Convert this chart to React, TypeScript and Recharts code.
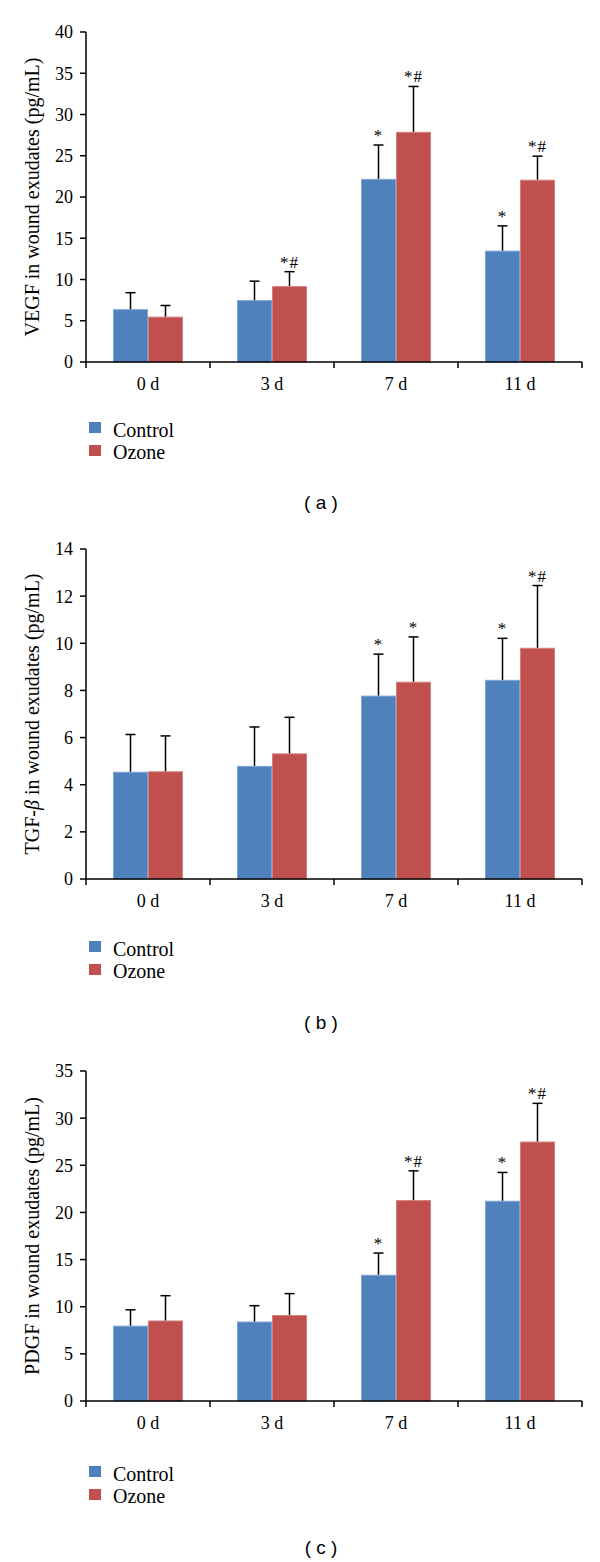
import { BarChart, Bar, XAxis, YAxis, Legend, Label } from "recharts";

const days = ["0 d", "3 d", "7 d", "11 d"];

// (a) VEGF
const vegfControl = [6.4, 7.5, 22.2, 13.5];
const vegfOzone = [5.5, 9.2, 27.9, 22.1];
const vegfControlErr = [2.0, 2.3, 4.1, 3.0];
const vegfOzoneErr = [1.35, 1.75, 5.5, 2.85];
const vegfControlSig = ["", "", "*", "*"];
const vegfOzoneSig = ["", "*#", "*#", "*#"];
const vegfTicks = [0, 5, 10, 15, 20, 25, 30, 35, 40];

// (b) TGF-beta
const tgfControl = [4.55, 4.8, 7.78, 8.45];
const tgfOzone = [4.57, 5.33, 8.37, 9.81];
const tgfControlErr = [1.58, 1.65, 1.76, 1.76];
const tgfOzoneErr = [1.5, 1.53, 1.9, 2.64];
const tgfControlSig = ["", "", "*", "*"];
const tgfOzoneSig = ["", "", "*", "*#"];
const tgfTicks = [0, 2, 4, 6, 8, 10, 12, 14];

// (c) PDGF
const pdgfControl = [7.99, 8.43, 13.39, 21.24];
const pdgfOzone = [8.54, 9.12, 21.31, 27.52];
const pdgfControlErr = [1.68, 1.68, 2.3, 3.0];
const pdgfOzoneErr = [2.63, 2.27, 3.1, 4.05];
const pdgfControlSig = ["", "", "*", "*"];
const pdgfOzoneSig = ["", "", "*#", "*#"];
const pdgfTicks = [0, 5, 10, 15, 20, 25, 30, 35];

const BLUE = "#4F81BD";
const RED = "#C0504D";
const BLUE_EDGE = "#7FA3D1";
const RED_EDGE = "#D4817F";
const SERIF = "'Liberation Serif', 'Times New Roman', serif";
const SANS = "'Liberation Sans', Arial, sans-serif";

function buildRows(c: number[], o: number[], ce: number[], oe: number[], cs: string[], os: string[]) {
    return days.map((day, i) => ({
        day,
        control: c[i],
        ozone: o[i],
        controlErr: ce[i],
        ozoneErr: oe[i],
        controlSig: cs[i],
        ozoneSig: os[i],
    }));
}

// bar + one-sided error bar (upwards) + significance mark
const barWithError = (valueKey: string, errKey: string, sigKey: string, edge: string) => (props: any) => {
    const { x, y, width, height, fill, payload } = props;
    const v = payload[valueKey];
    const perUnit = v ? height / v : 0;
    const cx = x + width / 2;
    const top = y - payload[errKey] * perUnit;
    const sig = payload[sigKey];
    return (
        <g>
            <rect x={x + 0.5} y={y + 0.5} width={width - 1} height={height - 0.5} fill={fill} stroke={edge} strokeWidth={1} />
            <line x1={cx} y1={y} x2={cx} y2={top} stroke="#000" strokeWidth={1.5} />
            <line x1={cx - 5} y1={top} x2={cx + 5} y2={top} stroke="#000" strokeWidth={1.5} />
            {sig ? (
                <text x={cx} y={top - 4} textAnchor="middle" fontSize={17} fontFamily={SERIF} fill="#000" letterSpacing={1}>
                    {sig}
                </text>
            ) : null}
        </g>
    );
};

// category label at band centre, tick marks at band boundaries
function CatTick(props: any) {
    const { x, y, payload, index, visibleTicksCount, width } = props;
    const step = width / visibleTicksCount;
    const left = x - step / 2;
    return (
        <g>
            <line x1={left} x2={left} y1={y} y2={y + 6} stroke="#000" strokeWidth={1.5} />
            {index === visibleTicksCount - 1 ? (
                <line x1={x + step / 2} x2={x + step / 2} y1={y} y2={y + 6} stroke="#000" strokeWidth={1.5} />
            ) : null}
            <text x={x} y={y + 28} textAnchor="middle" fontSize={18} fontFamily={SERIF} fill="#000">
                {payload.value}
            </text>
        </g>
    );
}

function LegendBox() {
    return (
        <svg width={600} height={55} style={{ display: "block" }}>
            <rect x={89} y={7} width={12} height={11} fill={BLUE} />
            <text x={113} y={22} fontSize={20} fontFamily={SERIF} fill="#000">Control</text>
            <rect x={89} y={30} width={12} height={11} fill={RED} />
            <text x={113} y={44} fontSize={20} fontFamily={SERIF} fill="#000">Ozone</text>
        </svg>
    );
}

function Panel(props: any) {
    const { data, ticks, max, title, top, xHeight, caption, captionTop } = props;
    const height = 32 + 330 + xHeight + 55;
    return (
        <>
            <div style={{ position: "absolute", left: 0, top, width: 600, height }}>
                <BarChart
                    width={600}
                    height={height}
                    data={data}
                    margin={{ top: 32, right: 18, bottom: 0, left: 0 }}
                    barGap={0}
                    barSize={35}
                >
                    <XAxis
                        dataKey="day"
                        height={xHeight}
                        interval={0}
                        tickLine={false}
                        tickSize={0}
                        tickMargin={0}
                        tick={<CatTick />}
                        axisLine={{ stroke: "#000", strokeWidth: 1.5 }}
                    />
                    <YAxis
                        width={86}
                        domain={[0, max]}
                        ticks={ticks}
                        interval={0}
                        stroke="#000"
                        tickSize={6}
                        tickMargin={7}
                        axisLine={{ stroke: "#000", strokeWidth: 1.5 }}
                        tickLine={{ stroke: "#000", strokeWidth: 1.5 }}
                        tick={{ fontSize: 18, fill: "#000", fontFamily: SERIF }}
                    >
                        <Label
                            content={(lp: any) => {
                                const vb = lp.viewBox;
                                const tx = vb.x + 32;
                                const ty = vb.y + vb.height / 2;
                                return (
                                    <text
                                        x={tx}
                                        y={ty}
                                        dy="0.35em"
                                        textAnchor="middle"
                                        transform={`rotate(-90, ${tx}, ${ty})`}
                                        fontSize={20}
                                        fontFamily={SERIF}
                                        fill="#000"
                                    >
                                        {title}
                                    </text>
                                );
                            }}
                        />
                    </YAxis>
                    <Legend verticalAlign="bottom" align="left" layout="horizontal" wrapperStyle={{ left: 0, width: 600 }} content={() => <LegendBox />} />
                    <Bar dataKey="control" name="Control" fill={BLUE} isAnimationActive={false} shape={barWithError("control", "controlErr", "controlSig", BLUE_EDGE)} />
                    <Bar dataKey="ozone" name="Ozone" fill={RED} isAnimationActive={false} shape={barWithError("ozone", "ozoneErr", "ozoneSig", RED_EDGE)} />
                </BarChart>
            </div>
            <div
                style={{
                    position: "absolute",
                    left: 0,
                    top: captionTop,
                    width: 642,
                    textAlign: "center",
                    fontFamily: SANS,
                    fontSize: 19,
                    lineHeight: "24px",
                    color: "#000",
                }}
            >
                {caption}
            </div>
        </>
    );
}

export default function App() {
    const vegfData = buildRows(vegfControl, vegfOzone, vegfControlErr, vegfOzoneErr, vegfControlSig, vegfOzoneSig);
    const tgfData = buildRows(tgfControl, tgfOzone, tgfControlErr, tgfOzoneErr, tgfControlSig, tgfOzoneSig);
    const pdgfData = buildRows(pdgfControl, pdgfOzone, pdgfControlErr, pdgfOzoneErr, pdgfControlSig, pdgfOzoneSig);

    const tgfTitle = (
        <>
            TGF-<tspan fontStyle="italic">β</tspan> in wound exudates (pg/mL)
        </>
    );

    return (
        <div style={{ position: "absolute", left: 0, top: 0, width: 600, height: 1562, background: "#fff" }}>
            <Panel data={vegfData} ticks={vegfTicks} max={40} title="VEGF in wound exudates (pg/mL)" top={0} xHeight={53} caption="( a )" captionTop={491} />
            <Panel data={tgfData} ticks={tgfTicks} max={14} title={tgfTitle} top={517} xHeight={55} caption="( b )" captionTop={1011} />
            <Panel data={pdgfData} ticks={pdgfTicks} max={35} title="PDGF in wound exudates (pg/mL)" top={1039} xHeight={58} caption="( c )" captionTop={1536} />
        </div>
    );
}
